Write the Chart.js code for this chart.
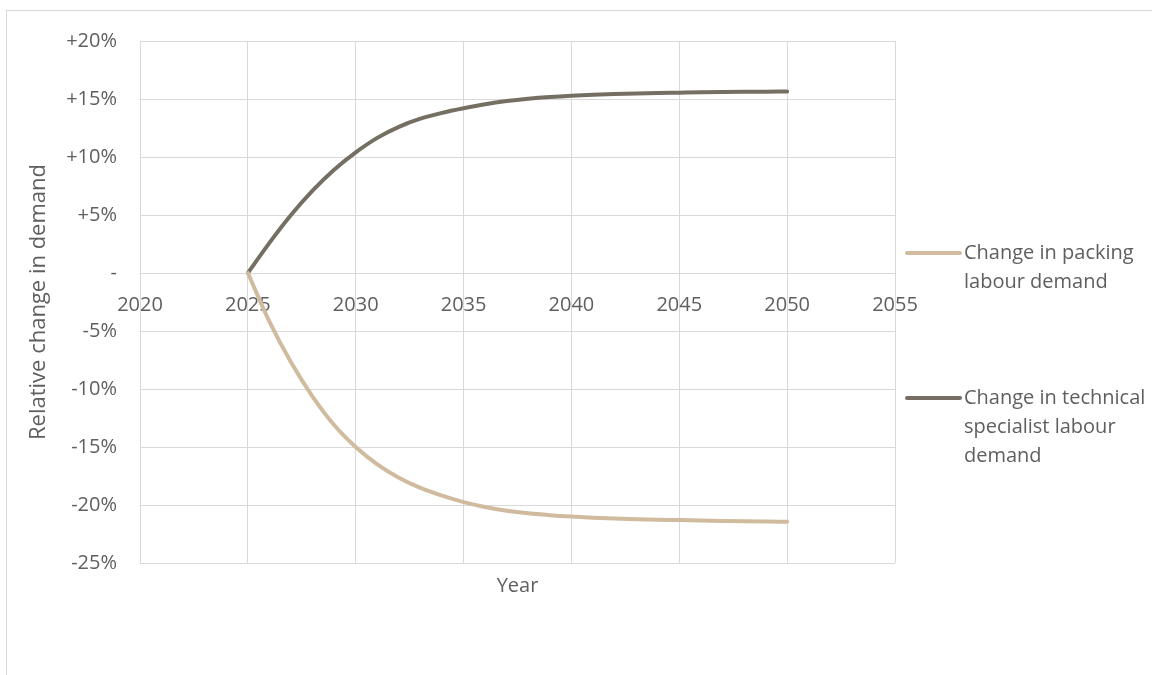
<!DOCTYPE html>
<html>
<head>
<meta charset="utf-8">
<script src="https://cdn.jsdelivr.net/npm/chart.js@4.4.1/dist/chart.umd.min.js"></script>
<style>
  html, body { margin: 0; padding: 0; background: #fff; }
  #wrap { position: relative; width: 1152px; height: 675px; overflow: hidden; }
  #frame { position: absolute; left: 6px; top: 10px; width: 1200px; height: 700px; border: 1px solid #d9d9d9; }
  canvas { position: absolute; left: 0; top: 0; }
</style>
</head>
<body>
<div id="wrap">
  <div id="frame"></div>
  <canvas id="chart" width="1152" height="675"></canvas>
</div>
<script>
// values, % change vs 2025
const years = [2025, 2026, 2027, 2028, 2029, 2030, 2031, 2032, 2033, 2034, 2035, 2036, 2037,
  2038, 2039, 2040, 2041, 2042, 2043, 2044, 2045, 2046, 2047, 2048, 2049, 2050];

const packing = [0, -4.2, -7.7, -10.65, -13.1, -15.0, -16.5, -17.65, -18.53, -19.2, -19.75, -20.17, -20.49,
  -20.72, -20.88, -21.0, -21.09, -21.16, -21.22, -21.265, -21.3, -21.34, -21.375, -21.405, -21.43, -21.45];

const technical = [0, 2.6, 5.0, 7.1, 8.9, 10.4, 11.65, 12.6, 13.3, 13.8, 14.2, 14.55, 14.82,
  15.02, 15.17, 15.28, 15.36, 15.425, 15.475, 15.515, 15.545, 15.575, 15.6, 15.62, 15.635, 15.645];

const seriesNames = ["Change in packing labour demand", "Change in technical specialist labour demand"];
const legendLines = [
  ["Change in packing", "labour demand"],
  ["Change in technical", "specialist labour", "demand"]
];

const yTickValues = [20, 15, 10, 5, 0, -5, -10, -15, -20, -25];
const yTickLabels = ["+20%", "+15%", "+10%", "+5%", "-", "-5%", "-10%", "-15%", "-20%", "-25%"];
const xTickLabels = ["2020", "2025", "2030", "2035", "2040", "2045", "2050", "2055"];

const textColor = "#5f5f5f";
const gridColor = "#d9d9d9";

Chart.defaults.font.family = "'Open Sans', sans-serif";
Chart.defaults.color = textColor;

// legend drawn on the right with wrapped lines
const sideLegend = {
  id: "sideLegend",
  afterDraw(chart) {
    const ctx = chart.ctx;
    const area = chart.chartArea;
    const x0 = area.right + 10;
    const starts = [area.top + 212, area.top + 357];
    ctx.save();
    ctx.font = "20px 'Open Sans', sans-serif";
    ctx.fillStyle = textColor;
    ctx.textBaseline = "middle";
    chart.data.datasets.forEach((ds, i) => {
      const y = starts[i];
      ctx.strokeStyle = ds.borderColor;
      ctx.lineWidth = 4;
      ctx.lineCap = "round";
      ctx.beginPath();
      ctx.moveTo(x0 + 2, y);
      ctx.lineTo(x0 + 55, y);
      ctx.stroke();
      legendLines[i].forEach((line, j) => {
        ctx.fillText(line, x0 + 59, y + j * 29);
      });
    });
    ctx.restore();
  }
};

const chart = new Chart(document.getElementById("chart"), {
  type: "line",
  data: {
    datasets: [
      {
        label: seriesNames[0],
        data: years.map((yr, i) => ({ x: yr, y: packing[i] })),
        borderColor: "#d0bb9e",
        borderWidth: 4,
        borderCapStyle: "round",
        pointRadius: 0,
        cubicInterpolationMode: "monotone",
        fill: false
      },
      {
        label: seriesNames[1],
        data: years.map((yr, i) => ({ x: yr, y: technical[i] })),
        borderColor: "#756f63",
        borderWidth: 4,
        borderCapStyle: "round",
        pointRadius: 0,
        cubicInterpolationMode: "monotone",
        fill: false
      }
    ]
  },
  options: {
    responsive: false,
    animation: false,
    layout: { padding: { top: 41, right: 257, left: 0, bottom: 0 } },
    plugins: {
      legend: { display: false },
      tooltip: { enabled: false }
    },
    scales: {
      x: {
        type: "linear",
        min: 2020,
        max: 2055,
        position: { y: 0 },
        grid: { color: gridColor, drawTicks: false },
        border: { color: gridColor },
        ticks: {
          stepSize: 5,
          maxRotation: 0,
          padding: 20,
          font: { size: 20 },
          color: textColor,
          callback: (v) => xTickLabels[(v - 2020) / 5]
        }
      },
      x2: {
        type: "linear",
        position: "bottom",
        grid: { display: false },
        border: { display: false },
        ticks: { display: false },
        title: {
          display: true,
          text: "Year",
          color: textColor,
          font: { size: 20 },
          padding: { top: 0, bottom: 77 }
        },
        afterFit: (s) => { s.height = 112; }
      },
      y: {
        min: -25,
        max: 20,
        grid: { color: gridColor, drawTicks: false },
        border: { color: gridColor },
        ticks: {
          stepSize: 5,
          padding: 23,
          font: { size: 20 },
          color: textColor,
          callback: (v) => yTickLabels[yTickValues.indexOf(v)]
        },
        title: {
          display: true,
          text: "Relative change in demand",
          color: textColor,
          font: { size: 22 },
          padding: { top: 26, bottom: 0 }
        },
        afterFit: (s) => { s.width = 140; }
      }
    }
  },
  plugins: [sideLegend]
});
</script>
</body>
</html>
